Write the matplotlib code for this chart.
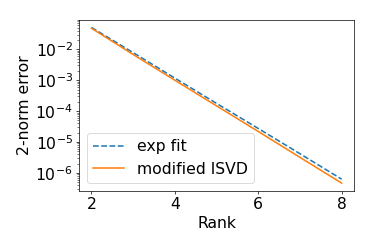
import numpy as np
import matplotlib.pyplot as plt

rank = [2, 3, 4, 5, 6, 7, 8]
exp_fit = [5.1e-2, 7.8e-3, 1.17e-3, 1.78e-4, 2.75e-5, 4.2e-6, 6.3e-7]
isvd = [4.8e-2, 6.8e-3, 1.0e-3, 1.48e-4, 2.2e-5, 3.2e-6, 4.7e-7]

plt.rcParams['font.size'] = 18
fig, ax = plt.subplots(figsize=(6.0, 4.0), dpi=62.33)
ax.semilogy(rank, exp_fit, '--', lw=1.8, label='exp fit')
ax.semilogy(rank, isvd, '-', lw=1.8, label='modified ISVD')
ax.set_xlabel('Rank')
ax.set_ylabel('2-norm error')
ax.set_xticks([2, 4, 6, 8])
ax.legend(loc='lower left')
fig.subplots_adjust(left=0.211, right=0.947, top=0.92, bottom=0.233)
fig.savefig('out.png')
